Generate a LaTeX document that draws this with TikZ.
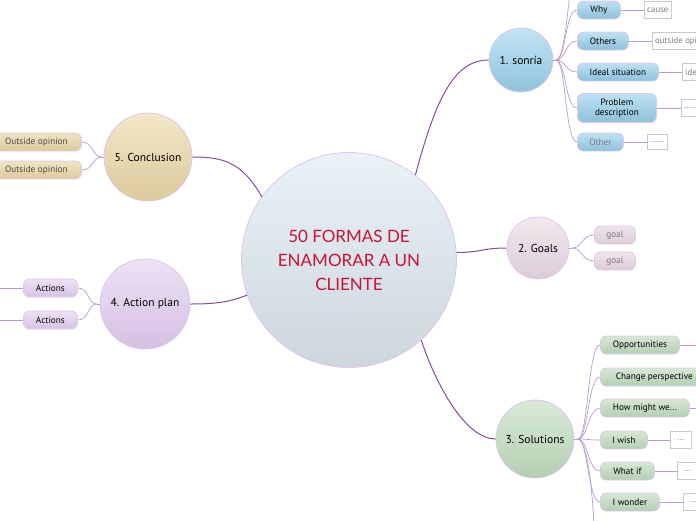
\documentclass[tikz,border=0pt]{standalone}
\usepackage{fontspec}
\setmainfont{PT Sans}
\newfontfamily\titlefont{Lato}
\usepackage{xcolor}
\usetikzlibrary{positioning}

\definecolor{lilac}{HTML}{DCC8EC}
\definecolor{branch}{HTML}{824CA6}
\definecolor{twig}{HTML}{B89AD2}
\definecolor{titlered}{HTML}{CC1236}
\definecolor{notegrey}{HTML}{C8C8C8}
\definecolor{softtext}{HTML}{7A7A7A}

\begin{document}
\begin{tikzpicture}[x=1pt,y=-1pt,
  topic/.style={circle,draw=lilac,line width=0.8pt,inner sep=0pt,font=\fontsize{11.5}{13}\selectfont},
  pill/.style={rectangle,rounded corners=6pt,draw=lilac,line width=0.8pt,minimum height=18pt,inner sep=2pt,anchor=west,font=\fontsize{9.2}{10.5}\selectfont},
  note/.style={rectangle,draw=notegrey,fill=white,minimum height=17pt,inner sep=3pt,anchor=west,text=softtext,font=\fontsize{8.8}{10}\selectfont},
  mainline/.style={draw=branch,line width=1pt},
  subline/.style={draw=twig,line width=0.7pt},
  bluepill/.style={pill,top color={rgb,255:red,190;green,226;blue,243},bottom color={rgb,255:red,140;green,192;blue,218}},
  pinkpill/.style={pill,top color={rgb,255:red,240;green,229;blue,236},bottom color={rgb,255:red,220;green,203;blue,213},text=softtext},
  greenpill/.style={pill,top color={rgb,255:red,214;green,232;blue,212},bottom color={rgb,255:red,180;green,206;blue,178}},
  lilacpill/.style={pill,top color={rgb,255:red,238;green,226;blue,246},bottom color={rgb,255:red,214;green,194;blue,228}},
  sandpill/.style={pill,top color={rgb,255:red,240;green,228;blue,194},bottom color={rgb,255:red,220;green,201;blue,156},text=black!70}]

\useasboundingbox (0,0) rectangle (696,520);
\clip (0,0) rectangle (696,520);

% main idea
\node[topic,minimum size=215pt,top color={rgb,255:red,232;green,242;blue,248},bottom color={rgb,255:red,204;green,214;blue,220},
  align=center,text=titlered,font=\titlefont\fontsize{17}{24}\selectfont] (centre) at (349,260) {50 FORMAS DE\\ENAMORAR A UN\\CLIENTE};

% topics
\node[topic,minimum size=64pt,top color={rgb,255:red,194;green,228;blue,245},bottom color={rgb,255:red,142;green,195;blue,220}] (sonria) at (521,60) {1. sonría};
\node[topic,minimum size=62pt,top color={rgb,255:red,242;green,233;blue,238},bottom color={rgb,255:red,220;green,204;blue,214}] (goals) at (538,248) {2. Goals};
\node[topic,minimum size=78pt,top color={rgb,255:red,216;green,234;blue,214},bottom color={rgb,255:red,181;green,207;blue,179}] (solutions) at (535,439) {3. Solutions};
\node[topic,minimum size=90pt,top color={rgb,255:red,238;green,226;blue,246},bottom color={rgb,255:red,212;green,192;blue,226}] (actionplan) at (145,304) {4. Action plan};
\node[topic,minimum size=88pt,top color={rgb,255:red,243;green,231;blue,200},bottom color={rgb,255:red,220;green,202;blue,156}] (conclusion) at (148,157) {5. Conclusion};

\draw[mainline] (centre.52) .. controls +(20,-75) and +(-35,0) .. (sonria.west);
\draw[mainline] (centre.4) .. controls +(25,0) and +(-25,0) .. (goals.west);
\draw[mainline] (centre.-48) .. controls +(15,45) and +(-30,0) .. (solutions.west);
\draw[mainline] (centre.199) .. controls +(-20,8) and +(20,0) .. (actionplan.east);
\draw[mainline] (centre.144) .. controls +(-20,-35) and +(30,0) .. (conclusion.east);

% 1. sonria
\node[bluepill,minimum width=43pt] (why) at (577,10) {Why};
\node[bluepill,minimum width=51pt] (others) at (577,41) {Others};
\node[bluepill,minimum width=81pt] (ideal) at (577,72) {Ideal situation};
\node[bluepill,minimum width=79pt,minimum height=29pt,align=center] (problem) at (577,108) {Problem\\description};
\node[bluepill,minimum width=46pt,text=softtext] (other) at (577,142) {Other};
\coordinate (sonriaup) at (574,-30);
\coordinate (sb) at (556,60);

\node[note] (cause) at (644,10) {cause};
\node[note] (outside) at (652,41) {outside opinion};
\node[note] (idealnote) at (682,72) {ideal situation};
\node[note] (problemnote) at (681,108) {......};
\node[note,minimum height=15pt] (othernote) at (647,142) {......};

\draw[subline] (sonria.east) -- (sb);
\foreach \k in {why,others,ideal,problem,other}
  \draw[subline] (sb) .. controls +(10,0) and +(-12,0) .. (\k.west);
\draw[subline] (sb) .. controls +(10,0) and +(-6,20) .. (sonriaup);
\draw[subline] (why) -- (cause);
\draw[subline] (others) -- (outside);
\draw[subline] (ideal) -- (idealnote);
\draw[subline] (problem) -- (problemnote);
\draw[subline] (other) -- (othernote);

% 2. Goals
\node[pinkpill,minimum width=41pt] (goala) at (594,235) {goal};
\node[pinkpill,minimum width=41pt] (goalb) at (594,261) {goal};
\coordinate (gb) at (572,248);
\draw[subline] (goals.east) -- (gb);
\foreach \k in {goala,goalb}
  \draw[subline] (gb) .. controls +(10,0) and +(-12,0) .. (\k.west);

% 3. Solutions
\node[greenpill,minimum width=79pt] (opport) at (600,345) {Opportunities};
\node[greenpill,minimum width=108pt] (change) at (600,377) {Change perspective};
\node[greenpill,minimum width=89pt] (howmight) at (600,408) {How might we...};
\node[greenpill,minimum width=47pt] (iwish) at (600,440) {I wish};
\node[greenpill,minimum width=54pt] (whatif) at (600,471) {What if};
\node[greenpill,minimum width=59pt] (iwonder) at (600,502) {I wonder};
\coordinate (solb) at (578,439);
\coordinate (soldown) at (594,535);
\coordinate (opportend) at (710,345);
\coordinate (howend) at (710,408);

\node[note,minimum width=21pt] (wishnote) at (670,440) {...};
\node[note,minimum width=21pt] (ifnote) at (677,471) {...};
\node[note,minimum width=21pt] (wondernote) at (683,502) {...};

\draw[subline] (solutions.east) -- (solb);
\foreach \k in {opport,change,howmight,iwish,whatif,iwonder}
  \draw[subline] (solb) .. controls +(10,0) and +(-12,0) .. (\k.west);
\draw[subline] (solb) .. controls +(10,0) and +(0,-30) .. (soldown);
\draw[subline] (opport) -- (opportend);
\draw[subline] (howmight) -- (howend);
\draw[subline] (iwish) -- (wishnote);
\draw[subline] (whatif) -- (ifnote);
\draw[subline] (iwonder) -- (wondernote);

% 4. Action plan
\node[lilacpill,minimum width=54pt] (actiona) at (23,288) {Actions};
\node[lilacpill,minimum width=54pt] (actionb) at (23,320) {Actions};
\coordinate (ab) at (97,304);
\coordinate (actionaend) at (-20,288);
\coordinate (actionbend) at (-20,320);
\foreach \k in {actiona,actionb}
  \draw[subline] (ab) .. controls +(-10,0) and +(12,0) .. (\k.east);
\draw[subline] (actionplan.west) -- (ab);
\draw[subline] (actiona) -- (actionaend);
\draw[subline] (actionb) -- (actionbend);

% 5. Conclusion
\node[sandpill,minimum width=90pt] (opina) at (-9,142) {Outside opinion};
\node[sandpill,minimum width=90pt] (opinb) at (-9,170) {Outside opinion};
\coordinate (cb) at (102,157);
\draw[subline] (conclusion.west) -- (cb);
\foreach \k in {opina,opinb}
  \draw[subline] (cb) .. controls +(-10,0) and +(12,0) .. (\k.east);

\end{tikzpicture}
\end{document}
